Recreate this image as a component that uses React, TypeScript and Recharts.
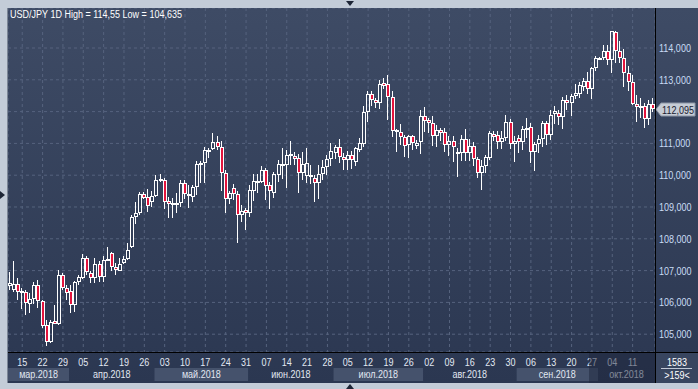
import React from 'react';
import { ComposedChart, Bar, XAxis, YAxis, CartesianGrid, ReferenceLine } from 'recharts';

// USD/JPY daily candles, 12 Mar 2018 – 18 Oct 2018
const opens = [
  106.50, 106.40, 106.58, 106.30, 106.34, 105.95, 106.10, 106.54, 106.04, 105.29,
  104.75, 105.40, 105.32, 106.86, 106.44, 106.36, 105.92, 106.63, 106.78, 107.39,
  106.92, 106.76, 107.20, 106.79, 107.33, 107.54, 107.12, 107.00, 107.23, 107.36,
  107.73, 108.70, 108.81, 109.41, 109.30, 109.15, 109.36, 109.83, 109.85, 109.20,
  109.10, 109.09, 109.12, 109.75, 109.41, 109.32, 109.64, 110.34, 110.37, 110.74,
  110.82, 111.05, 110.90, 110.08, 109.25, 109.59, 109.40, 108.74, 108.91, 108.80,
  109.51, 109.76, 109.79, 110.16, 109.69, 109.43, 110.00, 110.31, 110.32, 110.63,
  110.60, 110.53, 110.06, 109.97, 110.01, 109.92, 109.76, 110.04, 110.25, 110.50,
  110.71, 110.88, 110.58, 110.48, 110.64, 110.43, 110.79, 110.98, 112.00, 112.55,
  112.36, 112.28, 112.89, 112.87, 112.45, 111.36, 111.37, 111.19, 110.95, 111.23,
  110.93, 111.04, 111.86, 111.74, 111.65, 111.23, 111.42, 111.37, 110.95, 111.08,
  110.66, 110.71, 111.14, 110.71, 110.92, 110.52, 110.06, 110.29, 110.55, 111.30,
  111.26, 111.05, 111.18, 111.66, 110.97, 111.16, 111.05, 111.42, 111.52, 110.72,
  110.97, 111.14, 111.63, 111.26, 111.92, 111.95, 111.84, 112.36, 112.26, 112.49,
  112.54, 112.78, 112.96, 112.71, 113.36, 113.68, 113.68, 113.91, 113.62, 114.51,
  113.91, 113.70, 113.20, 112.92, 112.25, 112.14, 112.19, 111.76, 112.23,
];
const highs = [
  106.97, 107.31, 106.78, 106.44, 106.39, 106.29, 106.64, 106.69, 106.08, 105.46,
  105.44, 105.92, 107.02, 106.92, 106.55, 106.55, 106.68, 106.86, 107.51, 107.45,
  107.00, 107.39, 107.29, 107.45, 107.75, 107.60, 107.23, 107.39, 107.45, 107.86,
  108.75, 109.17, 109.46, 109.46, 109.57, 109.51, 110.00, 110.04, 109.90, 109.30,
  109.27, 109.43, 109.85, 109.85, 109.68, 109.70, 110.46, 110.46, 110.90, 110.85,
  111.32, 111.22, 111.07, 110.17, 109.49, 109.72, 109.49, 109.07, 108.97, 109.70,
  110.04, 110.04, 110.29, 110.23, 109.79, 110.10, 110.48, 110.85, 110.79, 111.07,
  110.73, 110.67, 110.73, 110.85, 110.32, 110.02, 110.32, 110.48, 110.64, 111.00,
  110.96, 111.14, 110.69, 110.75, 110.75, 110.89, 111.17, 112.18, 112.66, 112.66,
  112.43, 113.00, 113.05, 113.14, 112.66, 111.45, 111.60, 111.27, 111.27, 111.27,
  111.12, 112.05, 112.16, 111.80, 111.87, 111.58, 111.48, 111.48, 111.22, 111.22,
  110.85, 111.27, 111.44, 111.14, 111.05, 110.58, 110.48, 110.64, 111.40, 111.40,
  111.40, 111.40, 111.88, 111.78, 111.22, 111.26, 111.55, 111.81, 111.65, 111.03,
  111.26, 111.72, 111.72, 112.05, 112.18, 112.05, 112.45, 112.53, 112.55, 112.87,
  112.92, 113.05, 113.23, 113.40, 113.74, 113.72, 114.11, 114.11, 114.55, 114.55,
  114.23, 113.97, 113.43, 113.16, 112.53, 112.43, 112.27, 112.36, 112.43,
];
const lows = [
  106.40, 106.34, 106.08, 105.78, 105.60, 105.66, 105.94, 105.82, 105.18, 104.635,
  104.73, 105.31, 105.28, 106.39, 106.07, 105.66, 105.71, 106.56, 106.72, 106.86,
  106.60, 106.60, 106.63, 106.63, 107.30, 106.98, 106.86, 106.98, 107.20, 107.33,
  107.70, 108.47, 108.75, 109.24, 108.84, 108.99, 109.31, 109.80, 108.93, 108.64,
  108.65, 108.80, 109.00, 109.26, 108.98, 109.17, 109.38, 109.76, 109.76, 110.53,
  110.79, 110.79, 109.49, 108.81, 109.10, 109.23, 107.87, 108.52, 108.28, 108.70,
  109.20, 109.45, 109.76, 109.23, 108.95, 109.28, 109.79, 109.89, 109.60, 110.32,
  110.32, 109.43, 109.85, 109.76, 109.72, 109.16, 109.26, 109.85, 110.01, 110.28,
  110.51, 110.37, 110.15, 110.15, 110.19, 110.28, 110.72, 110.89, 111.68, 112.18,
  112.12, 112.07, 112.72, 111.75, 111.21, 110.74, 110.96, 110.57, 110.53, 110.80,
  110.83, 110.68, 111.35, 111.32, 110.92, 110.90, 111.09, 110.74, 110.60, 110.40,
  109.95, 110.45, 110.45, 110.45, 110.28, 109.90, 109.54, 110.06, 110.48, 111.08,
  110.81, 110.81, 111.08, 110.83, 110.40, 110.71, 110.78, 111.17, 110.38, 110.14,
  110.71, 110.90, 110.96, 111.10, 111.62, 111.58, 111.46, 112.04, 111.85, 112.40,
  112.42, 112.65, 112.55, 112.40, 113.28, 113.66, 113.62, 113.46, 113.21, 113.52,
  113.52, 112.78, 112.64, 112.20, 111.66, 111.81, 111.47, 111.58, 111.99,
];
const closes = [
  106.62, 106.57, 106.32, 106.36, 105.97, 106.10, 106.54, 106.04, 105.27, 104.75,
  105.39, 105.33, 106.86, 106.44, 106.29, 105.92, 106.63, 106.81, 107.39, 106.95,
  106.76, 107.20, 106.79, 107.33, 107.37, 107.10, 107.02, 107.20, 107.36, 107.65,
  108.68, 108.81, 109.41, 109.29, 109.04, 109.36, 109.85, 109.87, 109.17, 109.08,
  109.12, 109.14, 109.75, 109.40, 109.36, 109.64, 110.35, 110.39, 110.79, 110.79,
  111.05, 110.88, 110.06, 109.25, 109.43, 109.41, 108.74, 108.88, 108.80, 109.54,
  109.82, 109.82, 110.16, 109.67, 109.51, 110.04, 110.34, 110.35, 110.64, 110.67,
  110.52, 110.06, 110.35, 110.37, 109.93, 109.75, 110.04, 110.27, 110.50, 110.77,
  110.88, 110.56, 110.48, 110.64, 110.48, 110.85, 111.00, 112.00, 112.55, 112.36,
  112.28, 112.87, 112.81, 112.45, 111.40, 111.42, 111.19, 110.93, 111.23, 111.02,
  111.02, 111.86, 111.71, 111.63, 111.23, 111.42, 111.34, 110.95, 111.08, 110.88,
  110.74, 111.14, 110.71, 110.92, 110.50, 110.06, 110.29, 110.58, 111.32, 111.21,
  111.05, 111.18, 111.66, 110.97, 111.07, 111.05, 111.45, 111.50, 110.72, 110.97,
  111.14, 111.63, 111.26, 111.89, 112.02, 111.82, 112.36, 112.26, 112.50, 112.58,
  112.84, 112.96, 112.71, 113.36, 113.68, 113.70, 113.91, 113.62, 114.53, 113.91,
  113.68, 113.20, 112.92, 112.23, 112.15, 112.18, 111.76, 112.23, 112.095,
];

const priceTicks = [105, 106, 107, 108, 109, 110, 111, 112, 113, 114];
const monthNames = ['янв', 'фев', 'мар', 'апр', 'май', 'июн', 'июл', 'авг', 'сен', 'окт', 'ноя', 'дек'];
const lastPrice = 112.095;
const title = 'USD/JPY 1D High = 114,55 Low = 104,635';
const barsInfo = ['1583', '>159<'];

const FONT = "'Liberation Sans', Arial, sans-serif";
const CHART_W = 690;
const CHART_H = 375;
const Y_AXIS_W = 43;
const N = closes.length;
const CAT_W = (CHART_W - Y_AXIS_W) / N;

// trading days (Mon-Fri), one per candle
const dates: string[] = [];
{
  const d = new Date(Date.UTC(2018, 2, 12));
  while (dates.length < N) {
    const wd = d.getUTCDay();
    if (wd !== 0 && wd !== 6) dates.push(d.toISOString().slice(0, 10));
    d.setUTCDate(d.getUTCDate() + 1);
  }
}

const data = dates.map((date, i) => ({
  date,
  range: [lows[i], highs[i]],
  open: opens[i],
  high: highs[i],
  low: lows[i],
  close: closes[i],
}));

const weekTicks = dates.filter((d, i) => new Date(d).getUTCDay() === 4 && i < N - 3);
const monthStarts = dates.filter((d, i) => i === 0 || d.slice(5, 7) !== dates[i - 1].slice(5, 7));

const fmt = (v: number) => v.toFixed(3).replace('.', ',');

// narrow UI font: Liberation Sans squeezed horizontally
const NText = ({ x, y, anchor = 'start', fill = '#ffffff', children }: any) => (
  <text
    transform={`translate(${x},${y}) scale(0.82,1)`}
    textAnchor={anchor}
    fill={fill}
    fontSize={11}
    fontFamily={FONT}
  >
    {children}
  </text>
);

const Candle = (props: any) => {
  const { x, y, width, height, payload } = props;
  const { open, close, high, low } = payload;
  const span = high - low || 1;
  const toY = (v: number) => y + ((high - v) / span) * height;
  const cx = Math.round(x + width / 2);
  const bull = close >= open;
  const top = Math.round(toY(Math.max(open, close)));
  let bot = Math.round(toY(Math.min(open, close)));
  if (bot - top < 2) bot = top + 2;
  const wTop = Math.round(y);
  const wBot = Math.round(y + height);
  return (
    <g shapeRendering="crispEdges">
      {wTop < top && <line x1={cx - 0.5} x2={cx - 0.5} y1={wTop} y2={top} stroke="#ffffff" />}
      {wBot > bot && <line x1={cx - 0.5} x2={cx - 0.5} y1={bot} y2={wBot} stroke="#ffffff" />}
      <rect
        x={cx - 1.5}
        y={top + 0.5}
        width={3}
        height={bot - top - 1}
        fill={bull ? 'none' : '#e3143d'}
        stroke="#ffffff"
      />
    </g>
  );
};

const PriceTick = ({ x, y, payload }: any) => {
  if (Math.abs(payload.value - lastPrice) < 0.3) return null;
  return (
    <NText x={x} y={y + 4} fill="#c9dcf5">
      {fmt(payload.value)}
    </NText>
  );
};

const DayTick = ({ x, y, payload }: any) => (
  <NText x={x} y={y + 14} anchor="middle" fill="#e2e8f2">
    {payload.value.slice(8, 10)}
  </NText>
);

const MonthTick = ({ x, y, payload }: any) => {
  const start = dates.indexOf(payload.value);
  const k = monthStarts.indexOf(payload.value);
  const end = k + 1 < monthStarts.length ? dates.indexOf(monthStarts[k + 1]) : N;
  const left = x - CAT_W / 2;
  const w = (end - start) * CAT_W;
  const m = Number(payload.value.slice(5, 7)) - 1;
  return (
    <g>
      {m % 2 === 0 && <rect x={left} y={y + 2} width={w} height={13} fill="#45526c" />}
      <NText x={left + w / 2} y={y + 12} anchor="middle" fill="#e2e8f2">
        {monthNames[m]}.{payload.value.slice(0, 4)}
      </NText>
    </g>
  );
};

const PriceTag = (props: any) => {
  const { viewBox } = props;
  const tip = viewBox.x + viewBox.width + 1;
  const cy = Math.round(viewBox.y) + 0.5;
  return (
    <g>
      <path
        d={`M${tip},${cy} L${tip + 5},${cy - 6.5} L${tip + 39},${cy - 6.5} L${tip + 39},${cy + 6.5} L${tip + 5},${cy + 6.5} Z`}
        fill="#c6ccd5"
        stroke="#8c95a5"
      />
      <NText x={tip + 22} y={cy + 4} anchor="middle" fill="#1a2030">
        {fmt(lastPrice)}
      </NText>
    </g>
  );
};

export default function App() {
  return (
    <div style={{ position: 'absolute', left: 0, top: 0, width: 698, height: 389, background: '#c3ccd8', overflow: 'hidden' }}>
      <div
        style={{
          position: 'absolute',
          left: 8,
          top: 8,
          width: CHART_W,
          height: CHART_H,
          background: 'linear-gradient(#3e4b65, #2b3751)',
        }}
      >
        <ComposedChart
          width={CHART_W}
          height={CHART_H}
          data={data}
          margin={{ top: 0, right: 0, bottom: 0, left: 0 }}
          barCategoryGap={0}
        >
          <CartesianGrid strokeDasharray="3 3" stroke="#56637e" />
          <XAxis
            dataKey="date"
            ticks={weekTicks}
            interval={0}
            height={14}
            tickLine={false}
            axisLine={false}
            tickSize={0}
            tickMargin={0}
            tick={<DayTick />}
          />
          <XAxis
            xAxisId="m"
            dataKey="date"
            ticks={monthStarts}
            interval={0}
            height={17}
            tickLine={false}
            axisLine={false}
            tickSize={0}
            tickMargin={0}
            tick={<MonthTick />}
          />
          <YAxis
            orientation="right"
            width={Y_AXIS_W}
            domain={[104.44, 115.258]}
            ticks={priceTicks}
            allowDataOverflow
            tickLine={false}
            axisLine={false}
            tickSize={0}
            tickMargin={4}
            tick={<PriceTick />}
          />
          <Bar dataKey="range" shape={<Candle />} isAnimationActive={false} />
          <ReferenceLine y={lastPrice} stroke="none" label={<PriceTag />} />
        </ComposedChart>
      </div>
      <svg width={698} height={389} style={{ position: 'absolute', left: 0, top: 0, pointerEvents: 'none' }}>
        <rect x={589} y={353} width={66} height={30} fill="rgba(30,38,60,0.5)" />
        <rect x={656} y={353} width={42} height={30} fill="#38455f" />
        <line x1={8} x2={698} y1={352.5} y2={352.5} stroke="#000" />
        <line x1={655.5} x2={655.5} y1={8} y2={383} stroke="#000" />
        <line x1={7.5} x2={7.5} y1={8} y2={383} stroke="#7d8797" />
        <NText x={10} y={18}>{title}</NText>
        <NText x={677} y={366} anchor="middle">{barsInfo[0]}</NText>
        <line x1={661} x2={692} y1={368.5} y2={368.5} stroke="#c0c8d6" />
        <NText x={677} y={379} anchor="middle">{barsInfo[1]}</NText>
        <path d="M346,1 L354,1 L350,6 Z" fill="#1d2536" />
        <path d="M346,389 L354,389 L350,384 Z" fill="#1d2536" />
        <path d="M0,191 L0,199 L5,195 Z" fill="#1d2536" />
      </svg>
    </div>
  );
}
